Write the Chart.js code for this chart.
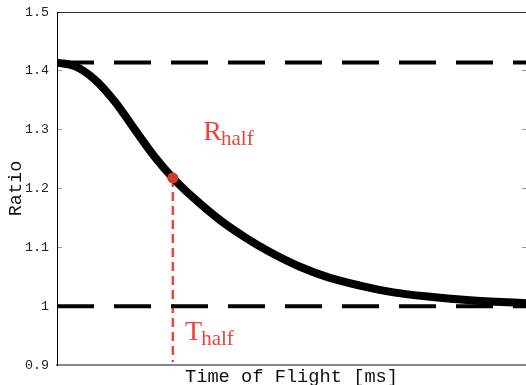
<!DOCTYPE html>
<html lang="en">
<head>
<meta charset="UTF-8">
<title>Ratio vs Time of Flight</title>
<script src="https://cdn.jsdelivr.net/npm/chart.js"></script>
<style>
  html, body { margin: 0; padding: 0; background: #fff; overflow: hidden; }
  canvas { display: block; }
</style>
</head>
<body>
<canvas id="ratioChart" width="526" height="385"></canvas>
<script>
// values (x in ms, axis has no tick labels)
const timeMs = [0, 0.38, 0.81, 1.24, 1.66, 2.09, 2.47, 2.94, 3.48, 4.01, 4.54, 5.18, 5.82, 6.46, 7.21, 7.95, 8.81, 10.0];
const ratio = [1.414, 1.408, 1.385, 1.347, 1.300, 1.253, 1.218, 1.182, 1.146, 1.117, 1.092, 1.067, 1.048, 1.035, 1.023, 1.016, 1.010, 1.005];
const upperRatio = 1.414;
const lowerRatio = 1.0;
const halfTime = 2.47;
const halfRatio = 1.218;
const halfLineBottom = 0.905;
const yTicks = [0.9, 1, 1.1, 1.2, 1.3, 1.4, 1.5];
const xRange = [0, 10];

const red = '#e8463c';
const monoFont = '"Liberation Mono", "DejaVu Sans Mono", monospace';

// draws R_half / T_half with a subscript
const halfLabels = {
    id: 'halfLabels',
    afterDatasetsDraw(chart, args, opts) {
        const { ctx, scales: { x, y } } = chart;
        ctx.save();
        ctx.fillStyle = opts.color;
        ctx.textBaseline = 'alphabetic';
        opts.items.forEach(item => {
            const px = x.getPixelForValue(item.x);
            const py = y.getPixelForValue(item.y);
            ctx.font = '28px "Liberation Serif", serif';
            ctx.fillText(item.main, px, py);
            const w = ctx.measureText(item.main).width;
            ctx.font = '21px "Liberation Serif", serif';
            ctx.fillText(item.sub, px + w - 1, py + 5);
        });
        ctx.restore();
    }
};

const setTicks = scale => { scale.ticks = yTicks.map(v => ({ value: v })); };
const noPad = s => { s.paddingTop = 0; s.paddingBottom = 0; s.paddingLeft = 0; s.paddingRight = 0; };

new Chart(document.getElementById('ratioChart'), {
    type: 'line',
    data: {
        datasets: [
            {
                data: [{ x: halfTime, y: halfRatio }],
                showLine: false,
                pointRadius: 5.5,
                pointBackgroundColor: '#d5392e',
                pointBorderWidth: 0,
                order: 0
            },
            {
                data: timeMs.map((t, i) => ({ x: t, y: ratio[i] })),
                borderColor: '#000',
                borderWidth: 8,
                pointRadius: 0,
                cubicInterpolationMode: 'monotone',
                order: 1
            },
            {
                data: xRange.map(t => ({ x: t, y: upperRatio })),
                borderColor: '#000',
                borderWidth: 4,
                borderDash: [37, 20],
                pointRadius: 0,
                order: 2
            },
            {
                data: xRange.map(t => ({ x: t, y: lowerRatio })),
                borderColor: '#000',
                borderWidth: 4,
                borderDash: [37, 20],
                pointRadius: 0,
                order: 2
            },
            {
                data: [{ x: halfTime, y: halfRatio }, { x: halfTime, y: halfLineBottom }],
                borderColor: red,
                borderWidth: 2.5,
                borderDash: [9, 5],
                pointRadius: 0,
                order: 3
            }
        ]
    },
    options: {
        responsive: false,
        devicePixelRatio: 1,
        animation: false,
        events: [],
        layout: { autoPadding: false, padding: { top: 12, left: 0, right: 0, bottom: 0 } },
        plugins: {
            legend: { display: false },
            tooltip: { enabled: false },
            halfLabels: {
                color: red,
                items: [
                    { main: 'R', sub: 'half', x: 3.12, y: 1.282 },
                    { main: 'T', sub: 'half', x: 2.73, y: 0.9425 }
                ]
            }
        },
        scales: {
            x: {
                type: 'linear',
                position: 'bottom',
                min: xRange[0],
                max: xRange[1],
                ticks: { display: false },
                grid: { display: false },
                border: { display: true, color: '#888', width: 2 },
                title: {
                    display: true,
                    text: 'Time of Flight [ms]',
                    color: '#111',
                    font: { family: monoFont, size: 18.7 },
                    padding: { top: 0, bottom: -3.6 }
                },
                afterFit: s => { s.height = 20; noPad(s); }
            },
            xTop: {
                type: 'linear',
                position: 'top',
                min: xRange[0],
                max: xRange[1],
                ticks: { display: false },
                grid: { display: false },
                border: { display: true, color: '#333', width: 1 },
                afterFit: s => { s.height = 0; noPad(s); }
            },
            y: {
                position: 'left',
                min: 0.9,
                max: 1.5,
                afterBuildTicks: setTicks,
                ticks: {
                    color: '#222',
                    font: { family: monoFont, size: 13.3 },
                    padding: 13,
                    callback: v => String(v)
                },
                grid: { drawOnChartArea: false, drawTicks: true, tickLength: -5, color: '#999', lineWidth: 1 },
                border: { display: true, color: '#000', width: 1 },
                title: {
                    display: true,
                    text: 'Ratio',
                    color: '#111',
                    font: { family: monoFont, size: 18.5 },
                    padding: { top: 5, bottom: 0 }
                },
                afterFit: s => { s.width = 57; noPad(s); }
            },
            yRight: {
                position: 'right',
                min: 0.9,
                max: 1.5,
                afterBuildTicks: setTicks,
                ticks: { display: false },
                grid: { drawOnChartArea: false, drawTicks: true, tickLength: -4, color: '#999', lineWidth: 1 },
                border: { display: false },
                afterFit: s => { s.width = 0; noPad(s); }
            }
        }
    },
    plugins: [halfLabels]
});
</script>
</body>
</html>
